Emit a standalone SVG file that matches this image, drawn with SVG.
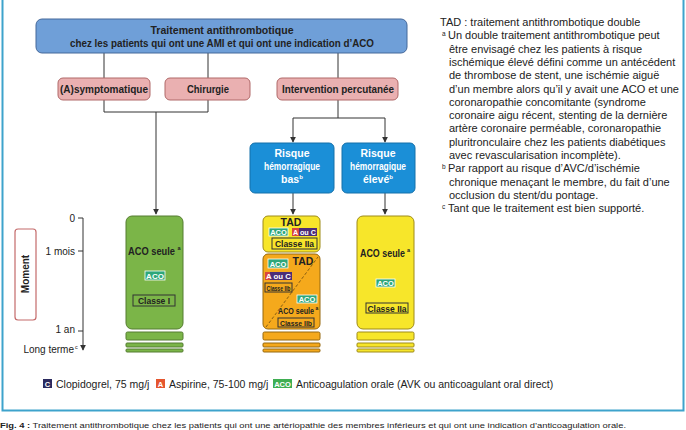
<svg xmlns="http://www.w3.org/2000/svg" width="686" height="430" viewBox="0 0 686 430">
<defs>
<style>
.t{font-family:"Liberation Sans",Arial,sans-serif;fill:#222}
.b{font-weight:bold}
.w{fill:#fff}
.ln{stroke:#333;stroke-width:1;fill:none}
.top{fill:#6f9fd8;stroke:#45689a;stroke-width:1}
.pink{fill:#eab0b1;stroke:#b06868;stroke-width:1}
.blue{fill:#1b8fd7;stroke:#1570aa;stroke-width:1}
.green{fill:#7bb548;stroke:#557d30;stroke-width:1}
.yel{fill:#f7e62a;stroke:#9e8b18;stroke-width:1}
.ora{fill:#f5a91c;stroke:#96680e;stroke-width:1}
.aco{fill:#2ea77a;stroke:#fff;stroke-width:0.8}
.cls{fill:none;stroke:#333;stroke-width:1}
</style>
<marker id="ar" viewBox="0 0 8 8" refX="7" refY="4" markerWidth="6" markerHeight="6" orient="auto">
<path d="M0,0 L8,4 L0,8 z" fill="#333"/>
</marker>
</defs>
<rect x="0" y="0" width="686" height="430" fill="#fff"/>
<path d="M2.5,0 V410.5 H683.5 V0" fill="none" stroke="#3ea3cc" stroke-width="2"/>

<g id="connectors">
<path class="ln" d="M104,53 V78 M208,53 V78 M338,53 V78"/>
<path class="ln" d="M104,100 V112 H208 M208,100 V112"/>
<path class="ln" d="M156,112 V214" marker-end="url(#ar)"/>
<path class="ln" d="M338,100 V118 M293,118 H385"/>
<path class="ln" d="M293,118 V142" marker-end="url(#ar)"/>
<path class="ln" d="M385,118 V142" marker-end="url(#ar)"/>
<path class="ln" d="M293,193 V214" marker-end="url(#ar)"/>
<path class="ln" d="M385,193 V214" marker-end="url(#ar)"/>
</g>

<g id="n-top">
<rect class="top" x="36" y="19" width="371" height="34" rx="6"/>
<text class="t b" x="222" y="34" font-size="10.5" text-anchor="middle" textLength="143" lengthAdjust="spacingAndGlyphs">Traitement antithrombotique</text>
<text class="t b" x="222" y="47" font-size="10.5" text-anchor="middle" textLength="304" lengthAdjust="spacingAndGlyphs">chez les patients qui ont une AMI et qui ont une indication d’ACO</text>
</g>

<g id="n-asympt">
<rect class="pink" x="58" y="78" width="92" height="22" rx="5"/>
<text class="t b" x="104" y="93" font-size="10.5" text-anchor="middle" textLength="88" lengthAdjust="spacingAndGlyphs">(A)symptomatique</text>
</g>
<g id="n-chir">
<rect class="pink" x="165" y="78" width="85" height="22" rx="5"/>
<text class="t b" x="208" y="93" font-size="10.5" text-anchor="middle" textLength="42" lengthAdjust="spacingAndGlyphs">Chirurgie</text>
</g>
<g id="n-perc">
<rect class="pink" x="277" y="78" width="121" height="22" rx="5"/>
<text class="t b" x="338" y="93" font-size="10.5" text-anchor="middle" textLength="112" lengthAdjust="spacingAndGlyphs">Intervention percutanée</text>
</g>

<g id="n-bas">
<rect class="blue" x="250" y="143" width="84" height="50" rx="5"/>
<text class="t b w" x="292" y="157" font-size="10.5" text-anchor="middle">Risque</text>
<text class="t b w" x="292" y="170" font-size="10.5" text-anchor="middle" textLength="56" lengthAdjust="spacingAndGlyphs">hémorragique</text>
<text class="t b w" x="292" y="183" font-size="10.5" text-anchor="middle">bas<tspan font-size="6" dy="-4">b</tspan></text>
</g>
<g id="n-eleve">
<rect class="blue" x="342" y="143" width="73" height="50" rx="5"/>
<text class="t b w" x="378" y="157" font-size="10.5" text-anchor="middle">Risque</text>
<text class="t b w" x="378" y="170" font-size="10.5" text-anchor="middle" textLength="56" lengthAdjust="spacingAndGlyphs">hémorragique</text>
<text class="t b w" x="378" y="183" font-size="10.5" text-anchor="middle">élevé<tspan font-size="6" dy="-4">b</tspan></text>
</g>

<g id="n-moment">
<rect x="15" y="229" width="21" height="91" rx="3" fill="#fff" stroke="#c46a6a" stroke-width="1.2"/>
<text class="t b" x="0" y="0" font-size="10" text-anchor="middle" transform="translate(29,274) rotate(-90)">Moment</text>
</g>

<g id="n-axis">
<path class="ln" d="M83,218 V350" marker-end="url(#ar)"/>
<path class="ln" d="M78,218 H83 M78,251 H83 M78,331 H83"/>
<text class="t" x="75" y="222" font-size="10" text-anchor="end">0</text>
<text class="t" x="75" y="255" font-size="10" text-anchor="end">1 mois</text>
<text class="t" x="75" y="333" font-size="10" text-anchor="end">1 an</text>
<text class="t" x="74" y="353" font-size="10" text-anchor="end">Long terme</text>
<text class="t" x="75" y="348.5" font-size="5.5">c</text>
</g>

<g id="n-green">
<rect class="green" x="126" y="216" width="57" height="113" rx="6"/>
<text class="t b" x="128" y="255" font-size="10" textLength="47" lengthAdjust="spacingAndGlyphs">ACO seule</text>
<text class="t b" x="177.5" y="249.5" font-size="5.5">a</text>
<rect class="aco" x="145" y="271" width="20" height="9"/>
<text class="t b w" x="155" y="278.5" font-size="8" text-anchor="middle">ACO</text>
<rect class="cls" x="133" y="295" width="42" height="11"/>
<text class="t b" x="154" y="304" font-size="8.5" text-anchor="middle">Classe I</text>
<rect class="green" x="126" y="332" width="57" height="8" rx="1.5"/>
<rect class="green" x="126" y="343" width="57" height="4" rx="1"/>
<rect class="green" x="126" y="349" width="57" height="3" rx="1"/>
</g>

<g id="n-tad">
<rect class="yel" x="263" y="216" width="57" height="36" rx="5"/>
<text class="t b" x="291" y="225.5" font-size="10.5" text-anchor="middle">TAD</text>
<rect class="aco" x="269" y="228" width="19" height="8"/>
<text class="t b w" x="278.5" y="235" font-size="7.5" text-anchor="middle">ACO</text>
<rect x="292" y="228" width="7" height="8" fill="#d9473f"/>
<rect x="299" y="228" width="18" height="8" fill="#4b2d78"/>
<text class="t b w" x="304.5" y="235" font-size="7" text-anchor="middle" textLength="23" lengthAdjust="spacingAndGlyphs">A ou C</text>
<rect class="cls" x="272" y="238" width="45" height="11"/>
<text class="t b" x="294.5" y="247" font-size="8.5" text-anchor="middle">Classe IIa</text>
</g>

<g id="n-orange">
<rect class="ora" x="263" y="254" width="57" height="75" rx="5"/>
<path d="M266,327 L318,257" stroke="#6a4a10" stroke-width="0.8" stroke-dasharray="3,2" fill="none"/>
<text class="t b" x="303" y="265" font-size="10.5" text-anchor="middle">TAD</text>
<rect class="aco" x="268" y="259" width="20" height="9"/>
<text class="t b w" x="278" y="266.5" font-size="7.5" text-anchor="middle">ACO</text>
<rect x="265" y="272" width="5" height="8" fill="#d9473f"/>
<rect x="270" y="272" width="22" height="8" fill="#4b2d78"/>
<text class="t b w" x="278.5" y="279" font-size="7" text-anchor="middle" textLength="25" lengthAdjust="spacingAndGlyphs">A ou C</text>
<rect class="cls" x="265" y="283" width="27" height="9"/>
<text class="t b" x="278.5" y="290.5" font-size="7" text-anchor="middle" textLength="24" lengthAdjust="spacingAndGlyphs">Classe IIb</text>
<rect class="aco" x="297" y="295" width="20" height="8"/>
<text class="t b w" x="307" y="302" font-size="7.5" text-anchor="middle">ACO</text>
<text class="t b" x="278" y="314" font-size="9" textLength="36" lengthAdjust="spacingAndGlyphs">ACO seule</text>
<text class="t b" x="315.5" y="309.5" font-size="5">a</text>
<rect class="cls" x="278" y="318" width="36" height="9"/>
<text class="t b" x="296" y="325.5" font-size="7.5" text-anchor="middle" textLength="32" lengthAdjust="spacingAndGlyphs">Classe IIb</text>
<rect class="ora" x="263" y="332" width="57" height="8" rx="1.5"/>
<rect class="ora" x="263" y="343" width="57" height="4" rx="1"/>
<rect class="ora" x="263" y="349" width="57" height="3" rx="1"/>
</g>

<g id="n-yellow">
<rect class="yel" x="357" y="216" width="57" height="113" rx="6"/>
<text class="t b" x="360" y="257" font-size="10" textLength="45" lengthAdjust="spacingAndGlyphs">ACO seule</text>
<text class="t b" x="407" y="251.5" font-size="5.5">a</text>
<rect class="aco" x="376" y="279" width="19" height="8"/>
<text class="t b w" x="385.5" y="286" font-size="7.5" text-anchor="middle">ACO</text>
<rect class="cls" x="366" y="303" width="42" height="10"/>
<text class="t b" x="387" y="311.5" font-size="8.5" text-anchor="middle">Classe IIa</text>
<rect class="yel" x="357" y="332" width="57" height="8" rx="1.5"/>
<rect class="yel" x="357" y="343" width="57" height="4" rx="1"/>
<rect class="yel" x="357" y="349" width="57" height="3" rx="1"/>
</g>

<g id="legend" font-size="10.5">
<rect x="43" y="379" width="9" height="9" fill="#2b2a5e"/>
<text class="t b w" x="47.5" y="386.5" font-size="7.5" text-anchor="middle">C</text>
<text class="t" x="56" y="387.5">Clopidogrel, 75 mg/j</text>
<rect x="156" y="379" width="9" height="9" fill="#e5562f"/>
<text class="t b w" x="160.5" y="386.5" font-size="7.5" text-anchor="middle">A</text>
<text class="t" x="169" y="387.5">Aspirine, 75-100 mg/j</text>
<rect x="273" y="379" width="19" height="9" fill="#3fae52"/>
<text class="t b w" x="282.5" y="386.5" font-size="7.5" text-anchor="middle">ACO</text>
<text class="t" x="296" y="387.5">Anticoagulation orale (AVK ou anticoagulant oral direct)</text>
</g>

<g id="notes" font-size="11">
<text class="t" x="440" y="26">TAD : traitement antithrombotique double</text>
<text class="t" x="442" y="36" font-size="6.5">a</text>
<text class="t" x="448" y="39.3">Un double traitement antithrombotique peut</text>
<text class="t" x="449" y="52.6">être envisagé chez les patients à risque</text>
<text class="t" x="449" y="65.9">ischémique élevé défini comme un antécédent</text>
<text class="t" x="449" y="79.2">de thrombose de stent, une ischémie aiguë</text>
<text class="t" x="449" y="92.5">d’un membre alors qu’il y avait une ACO et une</text>
<text class="t" x="449" y="105.8">coronaropathie concomitante (syndrome</text>
<text class="t" x="449" y="119.1">coronaire aigu récent, stenting de la dernière</text>
<text class="t" x="449" y="132.4">artère coronaire perméable, coronaropathie</text>
<text class="t" x="449" y="145.7">pluritronculaire chez les patients diabétiques</text>
<text class="t" x="449" y="159">avec revascularisation incomplète).</text>
<text class="t" x="442" y="169" font-size="6.5">b</text>
<text class="t" x="448" y="172.3">Par rapport au risque d’AVC/d’ischémie</text>
<text class="t" x="449" y="185.6">chronique menaçant le membre, du fait d’une</text>
<text class="t" x="449" y="198.9">occlusion du stent/du pontage.</text>
<text class="t" x="442" y="209" font-size="6.5">c</text>
<text class="t" x="448" y="212.2">Tant que le traitement est bien supporté.</text>
</g>

<g id="caption">
<text class="t" x="0" y="427.5" font-size="8" textLength="626" lengthAdjust="spacingAndGlyphs"><tspan font-weight="bold">Fig. 4 :</tspan> Traitement antithrombotique chez les patients qui ont une artériopathie des membres inférieurs et qui ont une indication d’anticoagulation orale.</text>
</g>
</svg>
